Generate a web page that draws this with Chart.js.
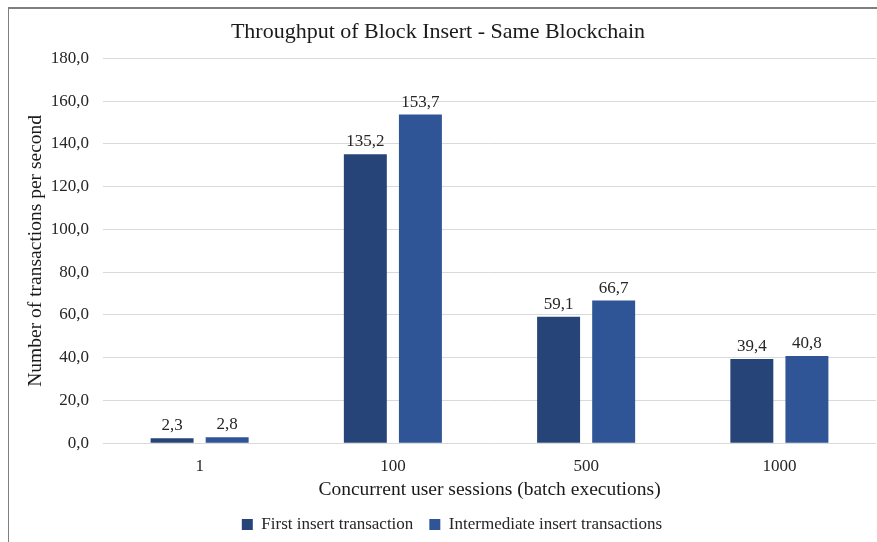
<!DOCTYPE html>
<html>
<head>
<meta charset="utf-8">
<script src="https://cdn.jsdelivr.net/npm/chart.js@4.4.1/dist/chart.umd.min.js"></script>
<style>
  html, body { margin: 0; padding: 0; background: #fff; }
  #wrap { position: relative; width: 877px; height: 542px; overflow: hidden; }
  #frame { position: absolute; left: 8px; top: 7px; width: 900px; height: 600px;
           border-left: 1px solid #7f7f7f; border-top: 2px solid #7f7f7f; box-sizing: border-box; }
  canvas { position: absolute; left: 0; top: 0; }
</style>
</head>
<body>
<div id="wrap">
  <div id="frame"></div>
  <canvas id="c" width="877" height="542"></canvas>
</div>
<script>
const categories = ['1', '100', '500', '1000'];
const firstInsert = [2.3, 135.2, 59.1, 39.4];
const intermediateInsert = [2.8, 153.7, 66.7, 40.8];
const seriesNames = ['First insert transaction', 'Intermediate insert transactions'];
const yTicks = [0, 20, 40, 60, 80, 100, 120, 140, 160, 180];

const serif = '"Liberation Serif", "Times New Roman", serif';
const fmt = v => v.toFixed(1).replace('.', ',');

// Writes each bar's value above it
const valueLabels = {
  id: 'valueLabels',
  afterDatasetsDraw(chart) {
    const ctx = chart.ctx;
    ctx.save();
    ctx.font = '17px ' + serif;
    ctx.fillStyle = '#262626';
    ctx.textAlign = 'center';
    ctx.textBaseline = 'alphabetic';
    chart.data.datasets.forEach((ds, i) => {
      chart.getDatasetMeta(i).data.forEach((bar, j) => {
        ctx.fillText(fmt(ds.data[j]), bar.x, bar.y - 8);
      });
    });
    ctx.restore();
  }
};

// Centres the legend row under the plot area rather than the whole canvas
const legendShift = {
  id: 'legendShift',
  afterLayout(chart) {
    const lg = chart.legend;
    if (!lg) return;
    const dx = 14;
    lg.left += dx;
    lg.right += dx;
  }
};

new Chart(document.getElementById('c'), {
  type: 'bar',
  data: {
    labels: categories,
    datasets: [
      { label: seriesNames[0], data: firstInsert, backgroundColor: '#264478' },
      { label: seriesNames[1], data: intermediateInsert, backgroundColor: '#2f5597' }
    ]
  },
  options: {
    responsive: false,
    animation: false,
    devicePixelRatio: 1,
    categoryPercentage: 0.57,
    barPercentage: 0.78,
    layout: { padding: { left: 0, right: 1, top: 0, bottom: -1 } },
    plugins: {
      title: {
        display: true,
        text: 'Throughput of Block Insert - Same Blockchain',
        color: '#1a1a1a',
        font: { family: serif, size: 22, weight: 'normal' },
        padding: { top: 19, bottom: 13 }
      },
      legend: {
        position: 'bottom',
        labels: {
          color: '#262626',
          font: { family: serif, size: 17 },
          boxWidth: 11,
          boxHeight: 11,
          padding: 16
        }
      },
      tooltip: { enabled: false }
    },
    scales: {
      x: {
        afterFit: s => { s.height -= 13; },
        grid: { display: false, drawTicks: false },
        border: { display: false },
        ticks: { color: '#262626', font: { family: serif, size: 17 }, padding: 13 },
        title: {
          display: true,
          text: 'Concurrent user sessions (batch executions)',
          color: '#1a1a1a',
          font: { family: serif, size: 19.5 },
          padding: { top: 2, bottom: -2 }
        }
      },
      y: {
        min: 0,
        max: 180,
        afterBuildTicks: s => { s.ticks = yTicks.map(v => ({ value: v })); },
        afterFit: s => { s.width = 103; },
        grid: { color: '#d9d9d9', lineWidth: 1, drawTicks: false },
        border: { display: false },
        ticks: {
          color: '#262626',
          font: { family: serif, size: 17 },
          padding: 14,
          callback: v => fmt(v)
        },
        title: {
          display: true,
          text: 'Number of transactions per second',
          color: '#1a1a1a',
          font: { family: serif, size: 19.5 },
          padding: { top: 24, bottom: 4 }
        }
      }
    }
  },
  plugins: [valueLabels, legendShift]
});
</script>
</body>
</html>
